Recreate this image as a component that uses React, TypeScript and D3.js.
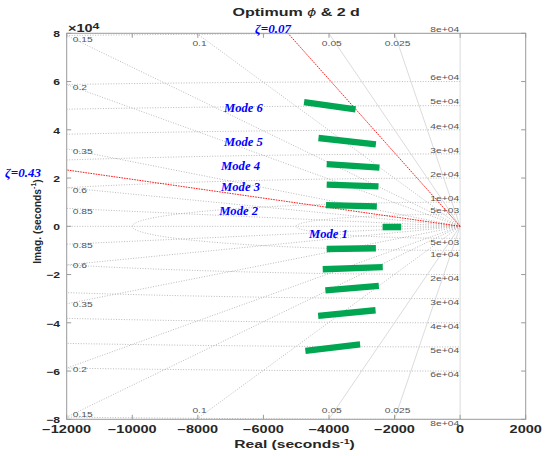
import React from "react";
import * as d3 from "d3";

// ---- data ----
const xTicks = [-12000, -10000, -8000, -6000, -4000, -2000, 0, 2000];
const yTicks = [-8, -6, -4, -2, 0, 2, 4, 6, 8]; // ×10^4
const dampingValues = [0.025, 0.05, 0.1, 0.15, 0.2, 0.35, 0.6, 0.85];
const dampingLabels = ["0.025", "0.05", "0.1", "0.15", "0.2", "0.35", "0.6", "0.85"];
const naturalFreqs = [5000, 10000, 20000, 30000, 40000, 50000, 60000, 80000];
const freqLabels = ["5e+03", "1e+04", "2e+04", "3e+04", "4e+04", "5e+04", "6e+04", "8e+04"];

const modeNames = ["Mode 1", "Mode 2", "Mode 3", "Mode 4", "Mode 5", "Mode 6"];
const upperFromRe = [-2360, -4090, -4070, -4070, -4320, -4760];
const upperFromIm = [-300, 8800, 17300, 25800, 36600, 51500];
const upperToRe = [-1800, -2540, -2490, -2460, -2570, -3190];
const upperToIm = [-300, 8300, 16550, 24300, 34000, 48500];
const lowerFromRe = [-2360, -4070, -4190, -4110, -4330, -4720];
const lowerFromIm = [-300, -9400, -17800, -26600, -37100, -51600];
const lowerToRe = [-1800, -2570, -2360, -2480, -2580, -3050];
const lowerToIm = [-300, -9100, -16950, -24700, -34800, -48950];

// mode label anchor points (data units)
const modeLabelRe = [-4610, -7350, -7290, -7290, -7200, -7200];
const modeLabelIm = [-4850, 4890, 14630, 23130, 33080, 47580];

const criticalZeta = [0.0655, 0.457];
const criticalLabels = ["ζ=0.07", "ζ=0.43"];

// ---- layout ----
const W = 550, H = 456;
const L = 66.7, R = 525.7, T = 33.3, B = 419.3;
const MFONT = "'Liberation Sans', Arial, Helvetica, sans-serif";
const SFONT = "'Liberation Serif', 'Times New Roman', serif";
const AXC = "#262626";

const x = d3.scaleLinear().domain([-12000, 2000]).range([L, R]);
const y = d3.scaleLinear().domain([-80000, 80000]).range([B, T]);

function rayEnd(z: number, sign: number): [number, number] {
  const s = Math.sqrt(1 - z * z);
  const tx = z > 0 ? 12000 / z : Infinity;
  const ty = s > 0 ? 80000 / s : Infinity;
  const t = Math.min(tx, ty);
  return [-z * t, sign * s * t];
}

const ST = ({ px, py, sx = 1.42, anchor = "start", size = 10, weight = "bold", fill = AXC, family = MFONT, baseline = "auto", style = "normal", children }: any) => (
  <text
    transform={`translate(${px},${py}) scale(${sx},1)`}
    textAnchor={anchor}
    fontSize={size}
    fontWeight={weight}
    fontFamily={family}
    fontStyle={style}
    fill={fill}
    dominantBaseline={baseline}
  >
    {children}
  </text>
);

export default function App() {
  const circleLine = d3
    .line<[number, number]>()
    .x((d) => x(d[0]))
    .y((d) => y(d[1]));
  const angles = d3.range(0, 361).map((i) => Math.PI / 2 + (i * Math.PI) / 360);

  const gridDot = { stroke: "#a8a8a8", strokeWidth: 0.8, strokeDasharray: "1,1.6", fill: "none" };
  const gridSolid = { stroke: "#d2d2d2", strokeWidth: 0.8, fill: "none" };

  return (
    <svg width={W} height={H} style={{ position: "absolute", left: 0, top: 0, background: "#fff" }}>
      <defs>
        <clipPath id="plotClip">
          <rect x={L} y={T} width={R - L} height={B - T} />
        </clipPath>
      </defs>

      {/* grid */}
      <g clipPath="url(#plotClip)">
        {naturalFreqs.map((wn, i) => (
          <path
            key={"c" + i}
            d={circleLine(angles.map((a) => [wn * Math.cos(a), wn * Math.sin(a)] as [number, number])) || ""}
            {...gridDot}
          />
        ))}
        {dampingValues.map((z, i) =>
          [1, -1].map((sg) => {
            const e = rayEnd(z, sg);
            return (
              <line
                key={"r" + i + sg}
                x1={x(0)}
                y1={y(0)}
                x2={x(e[0])}
                y2={y(e[1])}
                {...(z <= 0.05 ? gridSolid : gridDot)}
              />
            );
          })
        )}
        {/* zeta = 1 and zeta = 0 */}
        <line x1={x(0)} y1={y(0)} x2={x(-12000)} y2={y(0)} {...gridDot} />
        <line x1={x(0)} y1={y(80000)} x2={x(0)} y2={y(-80000)} {...gridSolid} />
      </g>

      {/* damping labels */}
      {dampingValues.map((z, i) =>
        [1, -1].map((sg) => {
          const e = rayEnd(z, sg);
          const leftExit = Math.abs(e[0] + 12000) < 1;
          let px: number, py: number, anchor: string;
          if (leftExit) {
            px = L + 6;
            anchor = "start";
            py = sg > 0 ? Math.max(y(e[1]) + 3, T + 6) : Math.min(y(e[1]) + 1, B - 5);
          } else {
            px = x(e[0]) + 3;
            anchor = "middle";
            py = sg > 0 ? T + 10.5 : B - 9;
          }
          return (
            <ST key={"dl" + i + sg} px={px} py={py} anchor={anchor} size={7.6} weight="normal" fill="#555" sx={1.35} baseline="central">
              {dampingLabels[i]}
            </ST>
          );
        })
      )}

      {/* natural frequency labels */}
      {naturalFreqs.map((wn, i) =>
        [1, -1].map((sg) => (
          <ST
            key={"fl" + i + sg}
            px={x(0) - 1}
            py={sg > 0 ? y(wn) - 3.8 : y(-wn) + 3.8}
            anchor="end"
            size={7.6}
            weight="normal"
            fill="#555"
            sx={1.35}
            baseline="central"
          >
            {freqLabels[i]}
          </ST>
        ))
      )}

      {/* critical damping lines */}
      {criticalZeta.map((z, i) => {
        const e = rayEnd(z, 1);
        return (
          <line key={"cz" + i} x1={x(0)} y1={y(0)} x2={x(e[0])} y2={y(e[1])} stroke="#ff0000" strokeWidth={0.9} strokeDasharray="1.6,1" />
        );
      })}

      {/* mode loci */}
      <g>
        {modeNames.map((m, i) => (
          <g key={"m" + i}>
            <line x1={x(upperFromRe[i])} y1={y(upperFromIm[i])} x2={x(upperToRe[i])} y2={y(upperToIm[i])} stroke="#00a651" strokeWidth={6.3} />
            <line x1={x(lowerFromRe[i])} y1={y(lowerFromIm[i])} x2={x(lowerToRe[i])} y2={y(lowerToIm[i])} stroke="#00a651" strokeWidth={6.3} />
          </g>
        ))}
      </g>

      {/* frame */}
      <rect x={L} y={T} width={R - L} height={B - T} fill="none" stroke="#9a9a9a" strokeWidth={1} />
      {xTicks.map((t) => (
        <g key={"xt" + t}>
          <line x1={x(t)} x2={x(t)} y1={B} y2={B - 4.5} stroke="#9a9a9a" />
          <line x1={x(t)} x2={x(t)} y1={T} y2={T + 4.5} stroke="#9a9a9a" />
          <ST px={x(t)} py={B + 10.5} anchor="middle" size={10.2} sx={1.42} baseline="central">
            {t < 0 ? "−" + Math.abs(t) : String(t)}
          </ST>
        </g>
      ))}
      {yTicks.map((t) => (
        <g key={"yt" + t}>
          <line x1={L} x2={L + 4.5} y1={y(t * 1e4)} y2={y(t * 1e4)} stroke="#9a9a9a" />
          <line x1={R} x2={R - 4.5} y1={y(t * 1e4)} y2={y(t * 1e4)} stroke="#9a9a9a" />
          <ST px={60} py={y(t * 1e4) + 0.5} anchor="end" size={8.8} sx={1.38} baseline="central">
            {t < 0 ? "−" + Math.abs(t) : String(t)}
          </ST>
        </g>
      ))}

      {/* exponent */}
      <ST px={68} py={32.3} size={10} sx={1.45}>
        ×10<tspan dy={-3.8} fontSize={8.5}>4</tspan>
      </ST>

      {/* title */}
      <ST px={(L + R) / 2} py={15.7} anchor="middle" size={10.7} sx={1.5}>
        Optimum <tspan fontStyle="italic" fontWeight="normal">ϕ</tspan> &amp; 2 d
      </ST>

      {/* axis labels */}
      <ST px={294.5} py={448} anchor="middle" size={11} sx={1.42}>
        Real (seconds<tspan dy={-4.5} fontSize={7.5}>-1</tspan>
        <tspan dy={4.5}>)</tspan>
      </ST>
      <text
        transform={`translate(41,221.5) rotate(-90) scale(1,1.15)`}
        textAnchor="middle"
        fontSize={10.3}
        fontWeight="bold"
        fontFamily={MFONT}
        fill={AXC}
      >
        Imag. (seconds<tspan dy={-4.2} fontSize={7}>-1</tspan>
        <tspan dy={4.2}>)</tspan>
      </text>

      {/* annotations */}
      {modeNames.map((m, i) => (
        <ST key={"ml" + i} px={x(modeLabelRe[i])} py={y(modeLabelIm[i])} sx={1} size={12.6} family={SFONT} style="italic" fill="#0000ff">
          {m}
        </ST>
      ))}
      <ST px={291} py={32.5} anchor="end" sx={1} size={13} family={SFONT} style="italic" fill="#0000ff">
        {criticalLabels[0]}
      </ST>
      <ST px={5} py={176.5} anchor="start" sx={1} size={13} family={SFONT} style="italic" fill="#0000ff">
        {criticalLabels[1]}
      </ST>
    </svg>
  );
}
